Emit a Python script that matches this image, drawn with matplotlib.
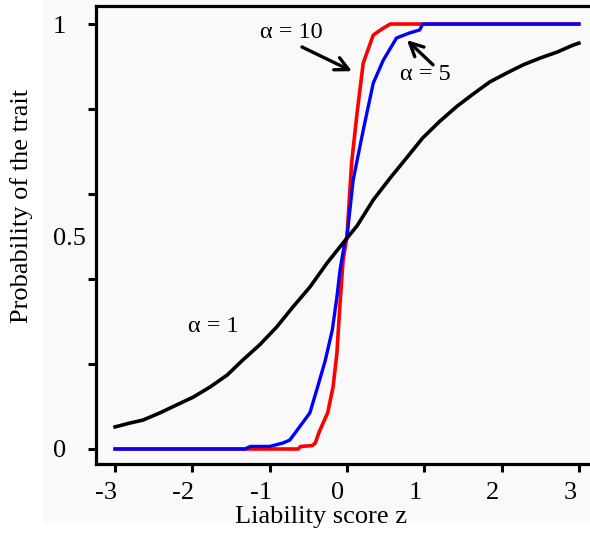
import matplotlib
matplotlib.use("Agg")
import matplotlib.pyplot as plt
from matplotlib.patches import Rectangle
from matplotlib.transforms import ScaledTranslation
from matplotlib.ticker import FixedLocator

plt.rcParams['font.family'] = ['Liberation Serif', 'DejaVu Serif']

# ---- data ----
z_a1 = [-3.0, -2.81, -2.64, -2.42, -2.2, -1.99, -1.77, -1.55, -1.35, -1.13, -0.91, -0.70,
        -0.48, -0.26, -0.05, 0.13, 0.34, 0.56, 0.78, 0.98, 1.2, 1.42, 1.63, 1.85, 2.07,
        2.28, 2.50, 2.72, 2.92, 3.0]
p_a1 = [0.052, 0.061, 0.068, 0.085, 0.104, 0.122, 0.146, 0.174, 0.209, 0.245, 0.287, 0.334,
        0.381, 0.437, 0.485, 0.525, 0.586, 0.638, 0.687, 0.732, 0.771, 0.806, 0.835, 0.864,
        0.885, 0.904, 0.92, 0.934, 0.95, 0.955]

z_a10 = [-3.0, -1.3, -0.63, -0.6, -0.45, -0.41, -0.36, -0.25, -0.18, -0.13, -0.09, -0.05,
         0.0, 0.06, 0.13, 0.21, 0.34, 0.45, 0.56, 3.0]
p_a10 = [0.0, 0.0, 0.0, 0.006, 0.008, 0.014, 0.04, 0.085, 0.146, 0.226, 0.343, 0.445,
         0.5, 0.673, 0.79, 0.908, 0.974, 0.988, 1.0, 1.0]

z_a5 = [-3.0, -1.32, -1.25, -1.0, -0.83, -0.74, -0.67, -0.48, -0.38, -0.28, -0.19, -0.13,
        -0.09, -0.03, 0.0, 0.08, 0.21, 0.34, 0.47, 0.64, 0.81, 0.94, 0.98, 3.0]
p_a5 = [0.0, 0.0, 0.006, 0.006, 0.014, 0.021, 0.038, 0.085, 0.146, 0.209, 0.28, 0.358,
        0.421, 0.485, 0.5, 0.633, 0.75, 0.861, 0.915, 0.967, 0.979, 0.986, 1.0, 1.0]

x_ticks = [-3, -2, -1, 0, 1, 2, 3]
y_labels_at = [0, 0.5, 1]
y_label_text = ['0', '0.5', '1']
y_ticks = [0, 0.2, 0.4, 0.6, 0.8, 1.0]

fig = plt.figure(figsize=(5.9, 5.41), dpi=100)
fig.patches.append(Rectangle((43/590, 18/541), 1, 1, transform=fig.transFigure,
                             facecolor='#f9f9f9', edgecolor='none', zorder=-10))

ax = fig.add_axes([96/590, 77/541, (590-96)/590, (464-6)/541])
ax.set_facecolor('none')

ax.plot(z_a10, p_a10, color='#ff0000', lw=2.6, zorder=3, solid_joinstyle='round')
ax.plot(z_a5, p_a5, color='#0000ff', lw=2.4, zorder=4, solid_joinstyle='round')
ax.plot(z_a1, p_a1, color='black', lw=2.6, zorder=5, solid_joinstyle='round')

ax.set_xlim(-3.247, 3.144)
ax.set_ylim(-0.0353, 1.0424)

for s in ['left', 'top', 'bottom']:
    ax.spines[s].set_linewidth(2.3)
ax.spines['right'].set_visible(False)

ax.set_xticks(x_ticks)
ax.set_xticklabels([str(t) for t in x_ticks])
ax.tick_params(axis='x', length=6, width=2.2, labelsize=19, pad=7)

ax.yaxis.remove_overlapping_locs = False
ax.set_yticks(y_labels_at)
ax.set_yticklabels(y_label_text)
ax.yaxis.set_minor_locator(FixedLocator(y_ticks))
ax.tick_params(axis='y', which='major', length=0, labelsize=19, pad=43*0.72)
ax.tick_params(axis='y', which='minor', length=6, width=2.2)
for lbl in ax.get_yticklabels():
    lbl.set_horizontalalignment('left')

off = ScaledTranslation(-9/100, 0, fig.dpi_scale_trans)
for tk in ax.xaxis.get_major_ticks():
    tk.label1.set_transform(tk.label1.get_transform() + off)

fig.text(22/590, 1-206/541, 'Probability of the trait', rotation=90,
         ha='center', va='center', fontsize=19)
fig.text(321/590, 1-517/541, 'Liability score z', ha='center', va='center', fontsize=19)

ax.text(-0.31, 0.967, 'α = 10', ha='right', va='baseline', fontsize=17.5)
ax.text(0.686, 0.868, 'α = 5', ha='left', va='baseline', fontsize=17.5)
ax.text(-2.057, 0.275, 'α = 1', ha='left', va='baseline', fontsize=17.5)

arrow = dict(arrowstyle='->', lw=2.4, color='black', mutation_scale=24,
             shrinkA=0, shrinkB=0)
ax.annotate('', xy=(0.065, 0.889), xytext=(-0.582, 0.946), arrowprops=arrow)
ax.annotate('', xy=(0.776, 0.962), xytext=(1.113, 0.904), arrowprops=arrow)

fig.savefig('out.png', dpi=100)
